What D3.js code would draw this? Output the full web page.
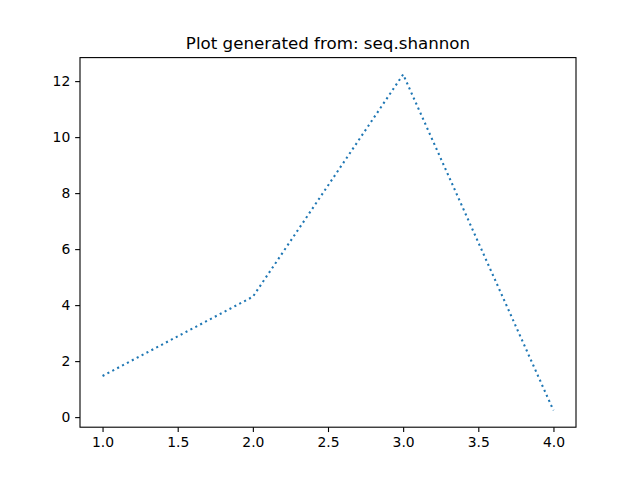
<!DOCTYPE html>
<html lang="en">
<head>
<meta charset="UTF-8">
<title>Plot generated from: seq.shannon</title>
<script src="https://d3js.org/d3.v7.min.js"></script>
<style>
  body { margin: 0; background: #fff; }
  text { font-family: "DejaVu Sans", sans-serif; fill: #000; }
</style>
</head>
<body>
<script>
// data
var xValues = [1, 2, 3, 4];
var yValues = [1.47, 4.30, 12.24, 0.24];
var xTicks = [1.0, 1.5, 2.0, 2.5, 3.0, 3.5, 4.0];
var yTicks = [0, 2, 4, 6, 8, 10, 12];
var title = "Plot generated from: seq.shannon";

var width = 640, height = 480;
var margin = { top: 57.6, right: 64, bottom: 52.8, left: 80 };
var plotW = width - margin.left - margin.right;
var plotH = height - margin.top - margin.bottom;

var svg = d3.select("body").append("svg")
    .attr("width", width)
    .attr("height", height);

// matplotlib style 5% padding
var xMin = d3.min(xValues), xMax = d3.max(xValues);
var yMin = d3.min(yValues), yMax = d3.max(yValues);
var xPad = (xMax - xMin) * 0.05, yPad = (yMax - yMin) * 0.05;

var x = d3.scaleLinear().domain([xMin - xPad, xMax + xPad]).range([0, plotW]);
var y = d3.scaleLinear().domain([yMin - yPad, yMax + yPad]).range([plotH, 0]);

var g = svg.append("g")
    .attr("transform", "translate(" + margin.left + "," + margin.top + ")");

// line
var line = d3.line()
    .x(function (d, i) { return x(xValues[i]); })
    .y(function (d) { return y(d); });

g.append("path")
    .datum(yValues)
    .attr("d", line)
    .attr("fill", "none")
    .attr("stroke", "#1f77b4")
    .attr("stroke-width", 2.08)
    .attr("stroke-dasharray", "2.08,3.44");

// axes
var xAxis = d3.axisBottom(x).tickValues(xTicks).tickFormat(d3.format(".1f"))
    .tickSizeInner(4.86).tickSizeOuter(0).tickPadding(4.86);
var yAxis = d3.axisLeft(y).tickValues(yTicks).tickFormat(d3.format("d"))
    .tickSizeInner(4.86).tickSizeOuter(0).tickPadding(4.86);

var gx = g.append("g").attr("transform", "translate(0," + plotH + ")").call(xAxis);
var gy = g.append("g").call(yAxis);

[gx, gy].forEach(function (a) {
    a.select(".domain").remove();
    a.selectAll("line").attr("stroke", "#000").attr("stroke-width", 1.1);
    a.selectAll("text").style("font-size", "13.9px").attr("fill", "#000");
});

// frame
g.append("rect")
    .attr("width", plotW)
    .attr("height", plotH)
    .attr("fill", "none")
    .attr("stroke", "#000")
    .attr("stroke-width", 1.1);

// title
svg.append("text")
    .attr("x", margin.left + plotW / 2)
    .attr("y", margin.top - 8.3)
    .attr("text-anchor", "middle")
    .style("font-size", "16.7px")
    .text(title);
</script>
</body>
</html>
